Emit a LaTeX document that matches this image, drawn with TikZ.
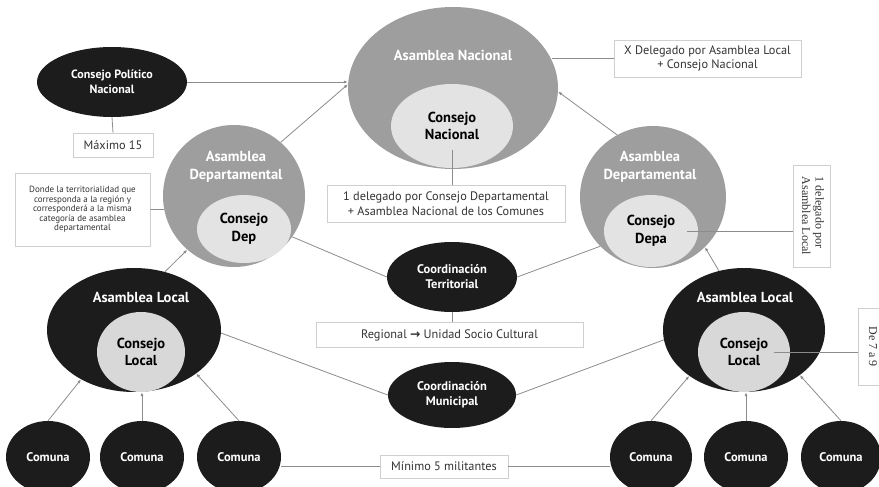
\documentclass[tikz,border=0pt]{standalone}
\usepackage{fontspec}
\usepackage{graphicx}
\setmainfont{PT Sans}
\newfontfamily\symfont{DejaVu Sans}
\newfontfamily\tnr{Liberation Serif}
\usetikzlibrary{shapes.geometric,arrows.meta}
\definecolor{blk}{HTML}{1C1C1C}
\definecolor{gry}{HTML}{9E9E9E}
\definecolor{lgt}{HTML}{E3E3E3}
\definecolor{ln}{HTML}{8C8C8C}
\definecolor{bx}{HTML}{CFCFCF}
\definecolor{txt}{HTML}{333333}
\tikzset{
 el/.style={ellipse, inner sep=0pt, draw=none},
 blackel/.style={el, fill=blk, text=white, font=\bfseries\fontsize{12.5}{15}\selectfont, align=center},
 grayel/.style={el, fill=gry},
 lightel/.style={el, fill=lgt, text=black, font=\bfseries\fontsize{14.5}{17.5}\selectfont, align=center},
 darkel/.style={el, fill=blk},
 wtitle/.style={text=white, font=\bfseries\fontsize{14.5}{18}\selectfont, align=center, inner sep=0pt},
 note/.style={draw=bx, line width=0.7pt, fill=white, font=\fontsize{12.3}{14.5}\selectfont, align=center, text=txt, inner sep=2pt},
 conn/.style={draw=ln, line width=0.8pt},
 arr/.style={conn, -{Latex[length=4pt,width=3.2pt]}},
}
\begin{document}
\begin{tikzpicture}[x=1pt,y=-1pt]
\useasboundingbox (0,0) rectangle (879,487);
\clip (0,0) rectangle (879,487);
\fill[white] (0,0) rectangle (879,487);

% Asamblea Nacional
\node[grayel, minimum width=210pt, minimum height=162pt] (an) at (453,88) {};
\node[lightel, minimum width=122pt, minimum height=84pt] (cn) at (452,126) {Consejo\\Nacional};
\node[wtitle] (ant) at (453,55) {Asamblea Nacional};

% Consejo Politico Nacional
\node[blackel, minimum width=150pt, minimum height=70pt, font=\bfseries\fontsize{12}{15}\selectfont] (cpn) at (112,82) {Consejo Político\\Nacional};
\node[note, minimum width=80pt, minimum height=24pt] (max) at (113,145) {Máximo 15};

% X delegado
\node[note, minimum width=187pt, minimum height=37pt] (xd) at (707.5,58.5) {X Delegado por Asamblea Local\\+ Consejo Nacional};

% Asamblea Departamental left
\node[grayel, minimum width=142pt, minimum height=142pt] (ad1) at (234,196) {};
\node[lightel, minimum width=94pt, minimum height=68pt] (cd1) at (244,229) {Consejo\\Dep};
\node[wtitle] (ad1t) at (236,167) {Asamblea\\Departamental};

% Asamblea Departamental right
\node[grayel, minimum width=146pt, minimum height=142pt] (ad2) at (653,197) {};
\node[lightel, minimum width=94pt, minimum height=72pt] (cd2) at (651,231) {Consejo\\Depa};
\node[wtitle] (ad2t) at (650,167) {Asamblea\\Departamental};

% middle box
\node[note, minimum width=238pt, minimum height=37pt] (b1) at (446,203.5) {1 delegado por Consejo Departamental\\+ Asamblea Nacional de los Comunes};

% Donde box
\node[note, minimum width=135pt, minimum height=73pt, font=\fontsize{9}{9.6}\selectfont] (donde) at (82.5,209.5) {Donde la territorialidad que\\corresponda a la región y\\corresponderá a la misma\\categoría de asamblea\\departamental};

% rotated-text box right
\node[note, minimum width=37pt, minimum height=102pt, inner sep=0pt, font=\tnr\fontsize{12}{13.5}\selectfont] (r1) at (811.5,216) {\rotatebox{-90}{\begin{tabular}{@{}l@{}}1 delegado por\\Asamblea Local\end{tabular}}};

% Coordinacion territorial
\node[blackel, minimum width=130pt, minimum height=70pt] (ct) at (452,277) {Coordinación\\Territorial};
\node[note, minimum width=267pt, minimum height=25pt] (reg) at (449.5,335) {Regional {\symfont\bfseries\char"2192} Unidad Socio Cultural};

% Asamblea Local left
\node[darkel, minimum width=174pt, minimum height=124pt] (al1) at (134,330) {};
\node[lightel, minimum width=88pt, minimum height=80pt, fill=lgt!95!black] (cl1) at (141,352) {Consejo\\Local};
\node[wtitle] (al1t) at (141,297) {Asamblea Local};

% Asamblea Local right
\node[darkel, minimum width=162pt, minimum height=124pt] (al2) at (744,330) {};
\node[lightel, minimum width=92pt, minimum height=80pt, fill=lgt!95!black] (cl2) at (744,352) {Consejo\\Local};
\node[wtitle] (al2t) at (745,297) {Asamblea Local};

% De 7 a 9 box
\node[note, minimum width=30pt, minimum height=77pt, inner sep=0pt, font=\tnr\fontsize{12}{14}\selectfont] (r2) at (873,346.5) {\rotatebox{-90}{De 7 a 9}};

% Coordinacion municipal
\node[blackel, minimum width=128pt, minimum height=66pt] (cm) at (452,395) {Coordinación\\Municipal};

% Comunas
\node[blackel, minimum width=84pt, minimum height=72pt] (c1) at (48,457) {Comuna};
\node[blackel, minimum width=84pt, minimum height=72pt] (c2) at (142,457) {Comuna};
\node[blackel, minimum width=84pt, minimum height=72pt] (c3) at (239,457) {Comuna};
\node[blackel, minimum width=82pt, minimum height=72pt] (d1) at (651,457) {Comuna};
\node[blackel, minimum width=84pt, minimum height=72pt] (d2) at (746,457) {Comuna};
\node[blackel, minimum width=80pt, minimum height=72pt] (d3) at (841,457) {Comuna};

\node[note, minimum width=128pt, minimum height=23pt] (min) at (444,466.5) {Mínimo 5 militantes};

% connectors
\draw[arr] (cpn.east) -- (cpn.east -| an.west);
\draw[conn] (cpn.south) -- (max.north);
\draw[conn] (xd.west) -- (xd.west -| an.16);
\draw[arr] (ad1.49) -- (an.178);
\draw[arr] (ad2.120) -- (an.-2);
\draw[conn] ([yshift=-24pt]cn.center) -- (cn.center |- b1.north);
\draw[conn] (donde.east) -- (ad1.191);
\draw[conn] ([xshift=36pt]cd2.center) -- (cd2.center -| r1.west);
\draw[conn] (ad1.-35) -- (ct.west);
\draw[conn] (ad2.223) -- (ct.east);
\draw[conn] (ct.south) -- (ct.south |- reg.north);
\draw[arr] (al1.62) -- (ad1.229);
\draw[arr] (al2.113) -- (ad2.-44);
\draw[conn] (al1.-2) -- (cm.west);
\draw[conn] (al2.187) -- (cm.east);
\draw[arr] (c1.north) -- (al1.223);
\draw[arr] (c2.north) -- (c2.north |- al1.south);
\draw[arr] (c3.north) -- (al1.-35);
\draw[arr] (d1.north) -- (al2.220);
\draw[arr] (d2.north) -- (d2.north |- al2.south);
\draw[arr] (d3.north) -- (al2.-39);
\draw[conn] (min.west) -- (min.west -| c3.east);
\draw[conn] (min.east) -- (min.east -| d1.west);
\draw[conn] ([xshift=30pt]cl2.center) -- (cl2.center -| r2.west);
\end{tikzpicture}
\end{document}
